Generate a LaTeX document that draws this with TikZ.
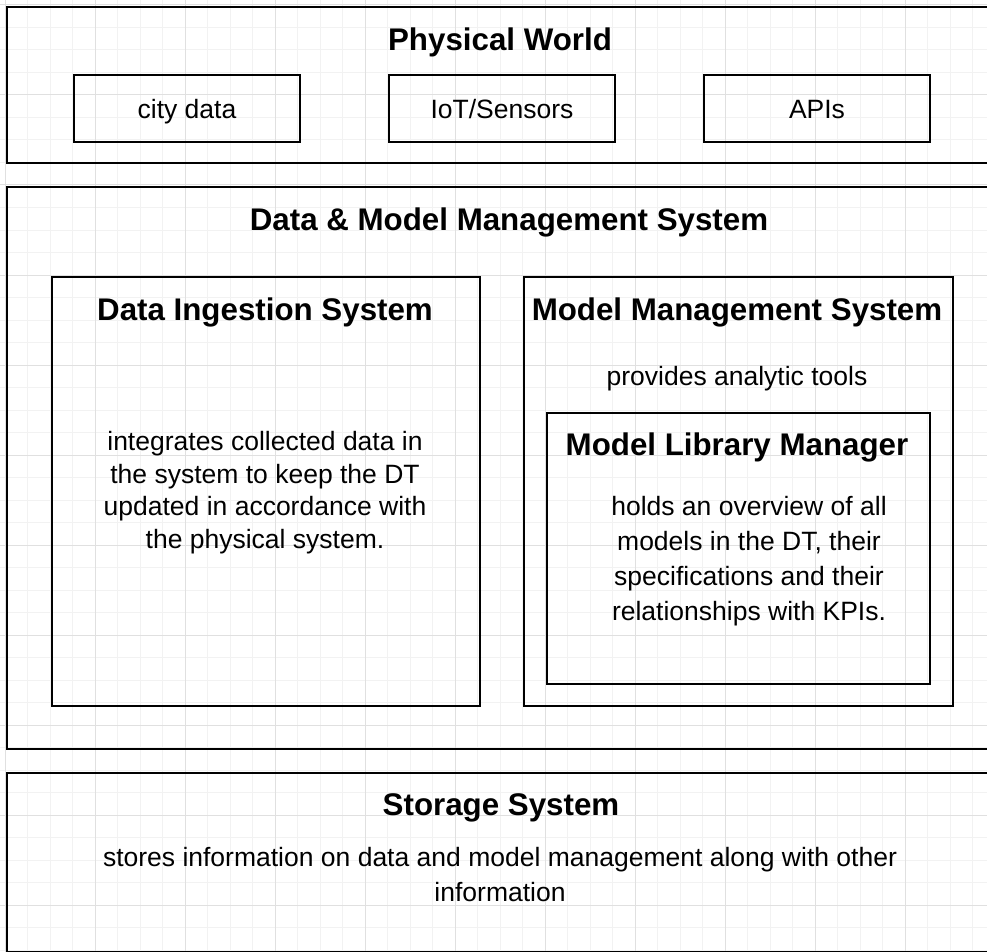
\documentclass[tikz,border=0pt]{standalone}
\usepackage{fontspec}
\setmainfont{Liberation Sans}
\tikzset{
  frame/.style={draw=black, line width=2pt, inner sep=0pt},
  head/.style={font=\bfseries\fontsize{31.3}{38}\selectfont},
  body/.style={font=\fontsize{26.5}{34}\selectfont, align=center},
  leaf/.style={frame, body, minimum width=226, minimum height=67, text height=26, text depth=5},
  minorgrid/.style={draw=black!5, line width=1pt},
  majorgrid/.style={draw=black!12, line width=1pt}
}
\begin{document}
\begin{tikzpicture}[x=1pt,y=-1pt]
    \useasboundingbox (0,0) rectangle (987,952);
    \clip (0,0) rectangle (987,952);
    \fill[white] (0,0) rectangle (987,952);
    % grid
    \foreach \i in {0,...,43} {
      \draw[minorgrid] (5+\i*22.5,0) -- (5+\i*22.5,952);
      \draw[minorgrid] (0,5+\i*22.5) -- (987,5+\i*22.5);
    }
    \foreach \i in {0,...,10} {
      \draw[majorgrid] (5+\i*90,0) -- (5+\i*90,952);
      \draw[majorgrid] (0,5+\i*90) -- (987,5+\i*90);
    }
    % physical world
    \node[frame, minimum width=993, minimum height=156] (world) at (503.5,85) {};
    \node[head] (worldtitle) at (500,42) {Physical World};
    \node[leaf] (city) at (187,108.5) {city data};
    \node[leaf] (iot) at (502,108.5) {IoT/Sensors};
    \node[leaf] (apis) at (817,108.5) {APIs};
    % data and model management
    \node[frame, minimum width=993, minimum height=562] (dmms) at (503.5,468) {};
    \node[head] (dmmstitle) at (509,222) {Data \& Model Management System};
    \node[frame, minimum width=428, minimum height=429] (ingest) at (266,491.5) {};
    \node[head] (ingesttitle) at (265,312) {Data Ingestion System};
    \node[body, font=\fontsize{26.5}{32.5}\selectfont] (ingesttext) at (265,492.5) {integrates collected data in\\the system to keep the DT\\updated in accordance with\\the physical system.};
    \node[frame, minimum width=429, minimum height=429] (models) at (738.5,491.5) {};
    \node[head] (modelstitle) at (737,312) {Model Management System};
    \node[body] (modelstext) at (737,379) {provides analytic tools};
    \node[frame, minimum width=383, minimum height=271] (library) at (738.5,548.5) {};
    \node[head] (librarytitle) at (737,447) {Model Library Manager};
    \node[body, font=\fontsize{26.5}{35}\selectfont] (librarytext) at (749,561) {holds an overview of all\\models in the DT, their\\specifications and their\\relationships with KPIs.};
    % storage
    \node[frame, minimum width=993, minimum height=179] (storage) at (503.5,862.5) {};
    \node[head] (storagetitle) at (501,808) {Storage System};
    \node[body, font=\fontsize{26.5}{35}\selectfont] (storagetext) at (500,875) {stores information on data and model management along with other\\information};
\end{tikzpicture}
\end{document}
